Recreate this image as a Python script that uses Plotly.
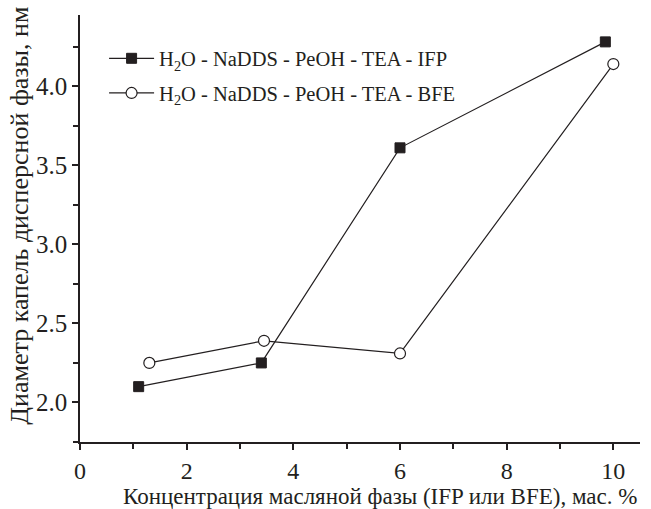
import plotly.graph_objects as go

# Oil phase concentration, wt. %
x_ifp = [1.1, 3.4, 6.0, 9.85]
x_bfe = [1.3, 3.45, 6.0, 10.0]
# Droplet diameter of the dispersed phase, nm
d_ifp = [2.10, 2.25, 3.61, 4.28]
d_bfe = [2.25, 2.39, 2.31, 4.14]

name_ifp = "H<sub>2</sub>O - NaDDS - PeOH - TEA - IFP"
name_bfe = "H<sub>2</sub>O - NaDDS - PeOH - TEA - BFE"
x_title = "Концентрация масляной фазы (IFP или BFE), мас. %"
y_title = "Диаметр капель дисперсной фазы, нм"

ink = "#231f20"
font_family = "Liberation Serif, Times New Roman, serif"

fig = go.Figure()
fig.add_trace(go.Scatter(
    x=x_ifp, y=d_ifp, name=name_ifp, mode="lines+markers", legendgroup="ifp",
    line=dict(color=ink, width=1.2),
    marker=dict(symbol="square", size=10, color=ink, line=dict(color=ink, width=1)),
))
fig.add_trace(go.Scatter(
    x=x_bfe, y=d_bfe, name=name_bfe, mode="lines+markers", legendgroup="bfe",
    line=dict(color=ink, width=1.2),
    marker=dict(symbol="circle", size=11, color="white", line=dict(color=ink, width=1.2)),
))

axis_common = dict(
    showgrid=False, zeroline=False, showline=True, linecolor=ink, linewidth=1.5,
    ticks="outside", ticklen=6, tickwidth=1.5, tickcolor=ink,
    mirror=False,
)

fig.update_xaxes(
    range=[0, 10.5], tickmode="array", tickvals=[0, 2, 4, 6, 8, 10],
    tickfont=dict(family=font_family, size=24, color=ink),
    minor=dict(tickvals=[1, 3, 5, 7, 9], ticks="outside", ticklen=5, tickwidth=1.5, tickcolor=ink),
    **axis_common,
)
fig.update_yaxes(
    range=[1.75, 4.45], tickmode="array", tickvals=[2.0, 2.5, 3.0, 3.5, 4.0],
    ticktext=["2.0", "2.5", "3.0", "3.5", "4.0"],
    tickfont=dict(family=font_family, size=25, color=ink),
    minor=dict(tickvals=[1.75, 2.25, 2.75, 3.25, 3.75, 4.25], ticks="outside", ticklen=5, tickwidth=1.5, tickcolor=ink),
    **axis_common,
)

# Axis titles placed as annotations
fig.add_annotation(
    text=x_title, xref="paper", yref="paper", x=0.535, y=0, yanchor="top",
    yshift=-40, showarrow=False,
    font=dict(family=font_family, size=23, color=ink),
)
fig.add_annotation(
    text=y_title, xref="paper", yref="paper", x=0, y=0.53, xanchor="center",
    xshift=-60, textangle=-90, showarrow=False,
    font=dict(family=font_family, size=26, color=ink),
)

fig.update_layout(
    width=651, height=509,
    margin=dict(l=80, r=11, t=15, b=67),
    paper_bgcolor="white", plot_bgcolor="white",
    showlegend=True,
    legend=dict(x=0.043, y=0.945, xanchor="left", yanchor="top",
                bgcolor="rgba(0,0,0,0)", borderwidth=0,
                font=dict(family=font_family, size=20.5, color=ink),
                itemwidth=45, traceorder="grouped", tracegroupgap=5),
)

fig.write_html("out.html")
